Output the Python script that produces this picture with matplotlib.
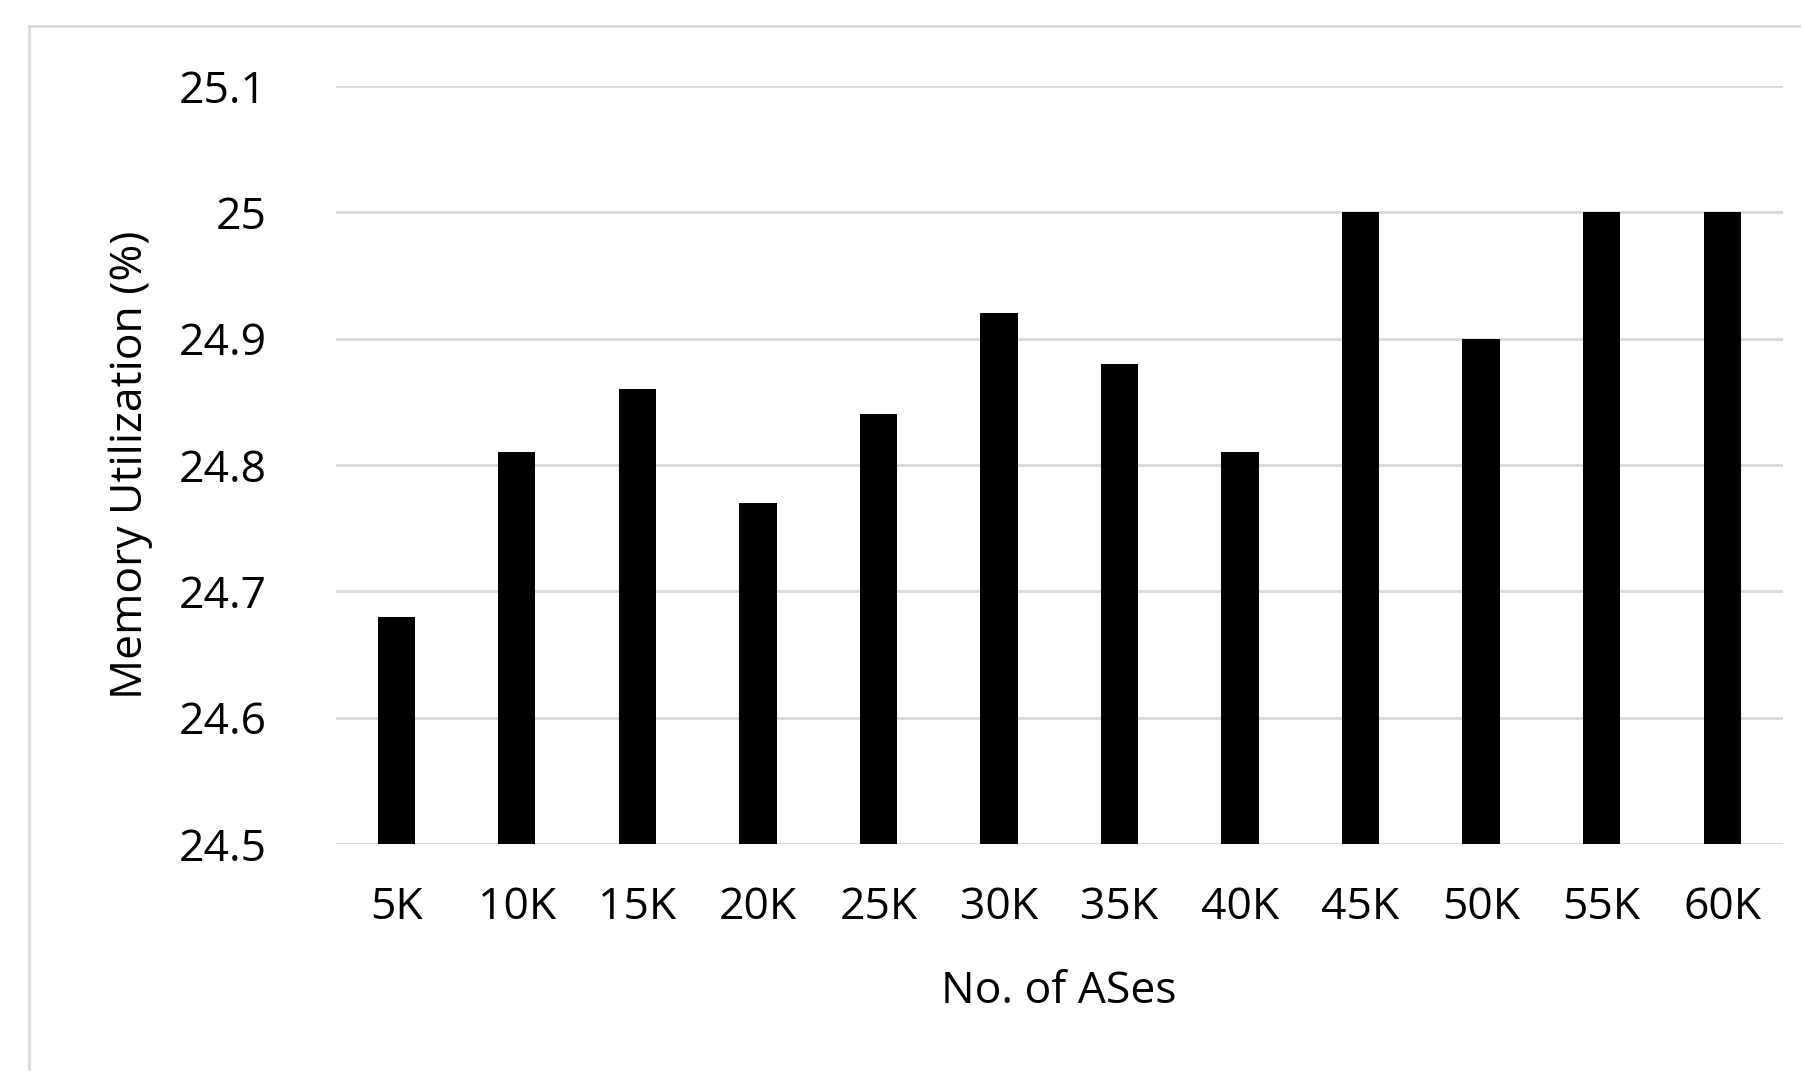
import matplotlib
matplotlib.use("Agg")
import matplotlib.pyplot as plt
from matplotlib.lines import Line2D

categories = ["5K","10K","15K","20K","25K","30K","35K","40K","45K","50K","55K","60K"]
values = [24.68, 24.81, 24.86, 24.77, 24.84, 24.92, 24.88, 24.81, 25.0, 24.9, 25.0, 25.0]
yticks = [24.5, 24.6, 24.7, 24.8, 24.9, 25.0, 25.1]
ytick_labels = ["24.5","24.6","24.7","24.8","24.9","25","25.1"]

plt.rcParams['font.family'] = ['Open Sans', 'DejaVu Sans']
fig = plt.figure(figsize=(18.06, 10.89), dpi=100)
fig.lines.append(Line2D([0.016, 0.016], [0.018, 0.976], transform=fig.transFigure, color='#d9d9d9', linewidth=2))
fig.lines.append(Line2D([0.016, 0.996], [0.976, 0.976], transform=fig.transFigure, color='#d9d9d9', linewidth=2))
ax = fig.add_axes([0.186, 0.225, 0.801, 0.696])
x = range(len(categories))
ax.bar(x, [v - 24.5 for v in values], bottom=24.5, width=0.31, color='black', zorder=3)
ax.set_ylim(24.5, 25.1)
ax.set_xlim(-0.5, len(categories) - 0.5)
ax.set_yticks(yticks)
ax.set_yticklabels(ytick_labels)
ax.set_xticks(list(x))
ax.set_xticklabels(categories)
ax.grid(axis='y', color='#d9d9d9', linewidth=2, zorder=0)
for s in ax.spines.values():
    s.set_visible(False)
ax.tick_params(length=0, labelsize=32, pad=50)
ax.tick_params(axis='x', pad=30)
ax.set_xlabel("No. of ASes", fontsize=32, labelpad=28)
ax.set_ylabel("Memory Utilization (%)", fontsize=32, labelpad=18)
fig.savefig("out.png", dpi=100, facecolor='white')
